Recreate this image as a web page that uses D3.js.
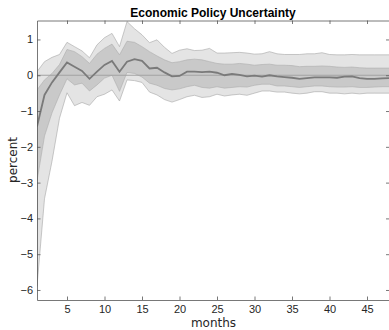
<!DOCTYPE html>
<html>
<head>
<meta charset="utf-8">
<script src="https://cdn.jsdelivr.net/npm/d3@7"></script>
<style>
  body { margin: 0; background: #fff; }
  svg { display: block; }
</style>
</head>
<body>
<div id="chart"></div>
<script>
// impulse response, months 1..48
const months = d3.range(1, 49);

const median = [-1.43, -0.55, -0.2, 0.08, 0.36, 0.24, 0.12, -0.1, 0.1, 0.29,
    0.4, 0.1, 0.38, 0.45, 0.4, 0.19, 0.21, 0.08, -0.03, -0.02,
    0.1, 0.1, 0.09, 0.1, 0.07, 0.0, 0.04, 0.01, -0.03, -0.01,
    -0.04, 0.0, -0.03, -0.05, -0.07, -0.1, -0.08, -0.06, -0.06, -0.06,
    -0.07, -0.04, -0.03, -0.08, -0.1, -0.1, -0.09, -0.08];

const innerUpper = [-0.41, -0.13, 0.05, 0.3, 0.72, 0.66, 0.52, 0.33, 0.59, 0.75,
    0.87, 0.57, 0.95, 0.92, 0.8, 0.66, 0.54, 0.43, 0.35, 0.38,
    0.43, 0.45, 0.43, 0.38, 0.33, 0.31, 0.31, 0.33, 0.31, 0.28,
    0.3, 0.31, 0.28, 0.28, 0.27, 0.24, 0.25, 0.25, 0.26, 0.25,
    0.23, 0.22, 0.23, 0.21, 0.2, 0.2, 0.2, 0.2];

const innerLower = [-2.95, -1.7, -1.05, -0.55, -0.1, -0.27, -0.22, -0.44, -0.27, -0.08,
    0.0, -0.45, 0.08, 0.05, -0.05, -0.22, -0.28, -0.37, -0.41, -0.38,
    -0.32, -0.28, -0.34, -0.36, -0.32, -0.36, -0.34, -0.32, -0.33, -0.28,
    -0.25, -0.25, -0.3, -0.3, -0.32, -0.34, -0.32, -0.3, -0.3, -0.32,
    -0.33, -0.33, -0.32, -0.34, -0.34, -0.33, -0.32, -0.32];

const outerUpper = [0.1, 0.38, 0.5, 0.58, 0.92, 0.8, 0.68, 0.49, 0.85, 1.05,
    1.17, 0.8, 1.5, 1.3, 1.13, 0.91, 0.99, 0.78, 0.61, 0.7,
    0.74, 0.69, 0.7, 0.75, 0.62, 0.62, 0.63, 0.64, 0.62, 0.59,
    0.6, 0.66, 0.6, 0.58, 0.58, 0.58, 0.6, 0.6, 0.63, 0.58,
    0.57, 0.57, 0.58, 0.57, 0.57, 0.57, 0.57, 0.57];

const outerLower = [-5.9, -3.45, -2.4, -1.2, -0.49, -0.85, -0.76, -0.84, -0.6, -0.53,
    -0.41, -0.72, -0.13, -0.15, -0.2, -0.47, -0.55, -0.68, -0.75, -0.68,
    -0.6, -0.56, -0.62, -0.6, -0.53, -0.58, -0.55, -0.53, -0.56, -0.5,
    -0.44, -0.44, -0.47, -0.47, -0.5, -0.52, -0.5, -0.46, -0.46, -0.5,
    -0.5, -0.52, -0.5, -0.52, -0.5, -0.5, -0.5, -0.5];

const xTicks = [5, 10, 15, 20, 25, 30, 35, 40, 45];
const yTicks = [1, 0, -1, -2, -3, -4, -5, -6];

const width = 389;
const height = 330;
const margin = { top: 20.5, right: -0.5, bottom: 30, left: 37 };

let svg = d3.select('#chart')
    .append('svg')
    .attr('width', width)
    .attr('height', height);

const x = d3.scaleLinear()
    .domain([1, 48])
    .range([margin.left, width - margin.right]);

const y = d3.scaleLinear()
    .domain([-6.28, 1.53])
    .range([height - margin.bottom, margin.top]);

svg.append('clipPath')
    .attr('id', 'plotClip')
    .append('rect')
    .attr('x', x(1))
    .attr('y', y(1.53))
    .attr('width', x(48) - x(1))
    .attr('height', y(-6.28) - y(1.53));

let data = months.map((m, i) => ({
    m: m,
    med: median[i],
    iu: innerUpper[i],
    il: innerLower[i],
    ou: outerUpper[i],
    ol: outerLower[i]
}));

const plot = svg.append('g').attr('clip-path', 'url(#plotClip)');

const outerArea = d3.area()
    .x(d => x(d.m))
    .y0(d => y(d.ol))
    .y1(d => y(d.ou));

const innerArea = d3.area()
    .x(d => x(d.m))
    .y0(d => y(d.il))
    .y1(d => y(d.iu));

plot.append('path')
    .datum(data)
    .attr('d', outerArea)
    .attr('fill', '#e4e4e4')
    .attr('stroke', '#a6a6a6')
    .attr('stroke-width', 0.6);

plot.append('path')
    .datum(data)
    .attr('d', innerArea)
    .attr('fill', '#c9c9c9')
    .attr('stroke', '#adadad')
    .attr('stroke-width', 0.6);

// zero line
plot.append('line')
    .attr('x1', x(1))
    .attr('x2', x(48))
    .attr('y1', y(0))
    .attr('y2', y(0))
    .attr('stroke', '#a3a3a3')
    .attr('stroke-width', 1);

plot.append('path')
    .datum(data)
    .attr('d', d3.line().x(d => x(d.m)).y(d => y(d.med)))
    .attr('fill', 'none')
    .attr('stroke', '#7a7a7a')
    .attr('stroke-width', 1.8);

// axes, MATLAB style: ticks inside, box on
const axisColor = '#555';
const tickFont = '"Liberation Sans", Arial, sans-serif';

let gx = svg.append('g')
    .attr('transform', `translate(0,${y(-6.28)})`)
    .call(d3.axisBottom(x).tickValues(xTicks).tickSizeInner(-3.5).tickSizeOuter(0).tickPadding(5));
let gxTop = svg.append('g')
    .attr('transform', `translate(0,${y(1.53)})`)
    .call(d3.axisTop(x).tickValues(xTicks).tickSizeInner(-3.5).tickSizeOuter(0).tickFormat(''));
let gy = svg.append('g')
    .attr('transform', `translate(${x(1)},0)`)
    .call(d3.axisLeft(y).tickValues(yTicks).tickSizeInner(-3.5).tickSizeOuter(0).tickPadding(4));
let gyRight = svg.append('g')
    .attr('transform', `translate(${x(48)},0)`)
    .call(d3.axisRight(y).tickValues(yTicks).tickSizeInner(-3.5).tickSizeOuter(0).tickFormat(''));

[gx, gxTop, gy, gyRight].forEach(g => {
    g.selectAll('path').attr('stroke', axisColor).attr('stroke-width', 0.8);
    g.selectAll('line').attr('stroke', axisColor).attr('stroke-width', 0.8);
    g.selectAll('text')
        .attr('fill', '#262626')
        .style('font-family', tickFont)
        .style('font-size', '11px');
});

svg.append('text')
    .attr('x', 213)
    .attr('y', 16.5)
    .attr('text-anchor', 'middle')
    .style('font-family', tickFont)
    .style('font-weight', 'bold')
    .style('font-size', '12px')
    .attr('fill', '#000')
    .text('Economic Policy Uncertainty');

svg.append('text')
    .attr('x', 213.5)
    .attr('y', 327)
    .attr('text-anchor', 'middle')
    .style('font-family', '"DejaVu Sans", sans-serif')
    .style('font-size', '12px')
    .attr('fill', '#262626')
    .text('months');

svg.append('text')
    .attr('transform', 'translate(17,160) rotate(-90)')
    .attr('text-anchor', 'middle')
    .style('font-family', '"DejaVu Sans", sans-serif')
    .style('font-size', '12px')
    .attr('fill', '#262626')
    .text('percent');
</script>
</body>
</html>
